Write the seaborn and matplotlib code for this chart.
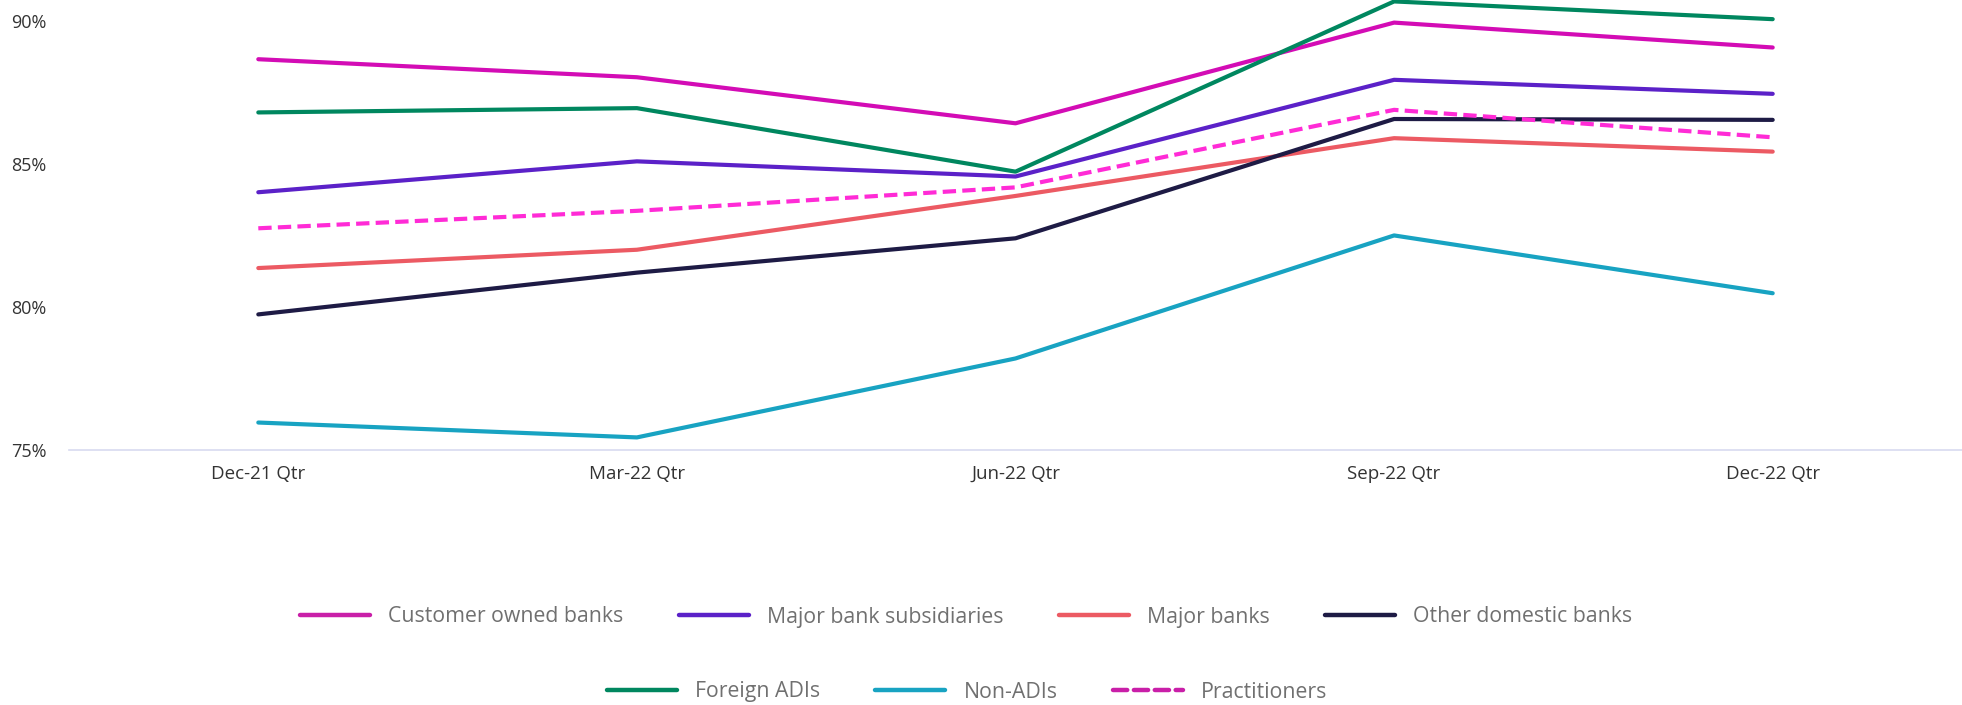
import matplotlib
matplotlib.use("Agg")
import matplotlib.pyplot as plt
from matplotlib.lines import Line2D
import seaborn as sns
import pandas as pd

quarters = ["Dec-21 Qtr", "Mar-22 Qtr", "Jun-22 Qtr", "Sep-22 Qtr", "Dec-22 Qtr"]

customer_owned = [88.66, 88.03, 86.42, 89.94, 89.07]
major_subs = [84.01, 85.09, 84.56, 87.94, 87.45]
major_banks = [81.36, 82.00, 83.88, 85.90, 85.43]
other_domestic = [79.74, 81.20, 82.40, 86.57, 86.54]
foreign_adis = [86.80, 86.95, 84.73, 90.68, 90.06]
non_adis = [75.96, 75.44, 78.20, 82.50, 80.48]
practitioners = [82.75, 83.36, 84.18, 86.89, 85.93]

series_names = ["Customer owned banks", "Major bank subsidiaries", "Major banks",
                "Other domestic banks", "Foreign ADIs", "Non-ADIs", "Practitioners"]
series_values = [customer_owned, major_subs, major_banks, other_domestic,
                 foreign_adis, non_adis, practitioners]
colors = ["#D30CB5", "#5B21C8", "#EC5A63", "#1E1B45", "#00875F", "#18A3C2", "#FF2BD6"]
legend_colors = ["#C91FA8", "#5B21C8", "#EC5A63", "#1E1B45", "#00875F", "#18A3C2", "#C91FA8"]

rows = []
for name, vals in zip(series_names, series_values):
    for q, v in zip(quarters, vals):
        rows.append({"Quarter": q, "Value": v, "Series": name})
df = pd.DataFrame(rows)

sns.set_theme(style="white")
plt.rcParams["font.family"] = ["Open Sans", "DejaVu Sans"]

fig = plt.figure(figsize=(19.62, 7.05), dpi=100)
ax = fig.add_axes([69 / 1962, 1 - 450 / 705, 1 - 69 / 1962, 450 / 705])

draw_order = ["Non-ADIs", "Major banks", "Other domestic banks", "Practitioners",
              "Major bank subsidiaries", "Customer owned banks", "Foreign ADIs"]
for name in draw_order:
    i = series_names.index(name)
    sub = df[df["Series"] == name]
    sns.lineplot(data=sub, x="Quarter", y="Value", ax=ax, color=colors[i],
                 linewidth=3.0, sort=False, legend=False, clip_on=False,
                 dashes=False, solid_capstyle="round",
                 **({"linestyle": (0, (3.2, 1.5))} if name == "Practitioners" else {}))

ax.set_xlim(-0.5, 4.5)
ax.set_ylim(75, 90.73)
ax.set_yticks([75, 80, 85, 90])
ax.set_yticklabels(["75%", "80%", "85%", "90%"])
ax.set_xlabel("")
ax.set_ylabel("")
for s in ["left", "top", "right"]:
    ax.spines[s].set_visible(False)
ax.spines["bottom"].set_color("#D8DAF0")
ax.spines["bottom"].set_linewidth(1.2)
ax.tick_params(axis="both", length=0, labelcolor="#333333")
ax.tick_params(axis="x", labelsize=13.5, pad=11)
ax.tick_params(axis="y", labelsize=13, pad=16)
ax.grid(False)

def make_handle(i):
    if series_names[i] == "Practitioners":
        return Line2D([0], [0], color=legend_colors[i], linewidth=3.2,
                      linestyle=(0, (3.2, 1.5)), dash_capstyle="round")
    return Line2D([0], [0], color=legend_colors[i], linewidth=3.2, solid_capstyle="round")

row1 = [0, 1, 2, 3]
row2 = [4, 5, 6]
leg_kw = dict(frameon=False, fontsize=15.3, handlelength=3.3, handletextpad=0.85,
              columnspacing=2.6, labelcolor="#707070", loc="center")
leg1 = fig.legend([make_handle(i) for i in row1], [series_names[i] for i in row1],
                  ncol=4, bbox_to_anchor=(966 / 1962, 1 - 617 / 705), **leg_kw)
leg2 = fig.legend([make_handle(i) for i in row2], [series_names[i] for i in row2],
                  ncol=3, bbox_to_anchor=(967 / 1962, 1 - 692 / 705), **leg_kw)

fig.savefig("out.png", dpi=100)
